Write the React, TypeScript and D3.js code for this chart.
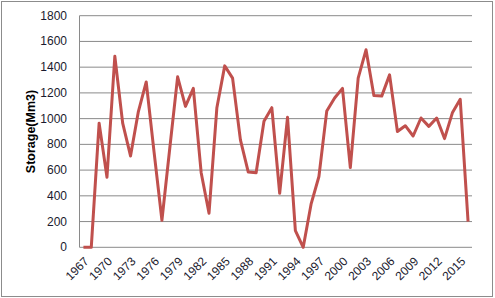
import React, { useEffect, useRef } from 'react';
import * as d3 from 'd3';

// annual storage, 1967 - 2016
const years: number[] = d3.range(1967, 2017);
const storage: number[] = [
	0, 0, 965, 545, 1485, 965, 710, 1055, 1285, 740,
	210, 770, 1325, 1095, 1235, 580, 265, 1085, 1410, 1315,
	835, 585, 580, 980, 1085, 420, 1010, 130, 0, 335,
	550, 1060, 1160, 1235, 620, 1315, 1535, 1180, 1175, 1340,
	900, 945, 865, 1005, 940, 1005, 845, 1045, 1150, 200,
];
const yTicks: number[] = [0, 200, 400, 600, 800, 1000, 1200, 1400, 1600, 1800];
const labelYears: number[] = d3.range(1967, 2016, 3);

const W = 495;
const H = 298;

const App = () => {
	const ref = useRef<SVGSVGElement>(null);

	useEffect(() => {
		const svg = d3.select(ref.current);
		svg.selectAll('*').remove();

		const left = 79.5;
		const right = 472;
		const top = 15.7;
		const bottom = 247.3;

		svg.append('rect')
			.attr('x', 1.5).attr('y', 1.5)
			.attr('width', 491).attr('height', 295)
			.attr('fill', '#fff')
			.attr('stroke', '#8c8c8c')
			.attr('stroke-width', 1);

		const x = d3.scaleBand<number>()
			.domain(years)
			.range([left, right]);
		const y = d3.scaleLinear().domain([0, 1800]).range([bottom, top]);
		const cx = (d: number) => (x(d) as number) + x.bandwidth() / 2;

		// gridlines
		svg.append('g')
			.selectAll('line')
			.data(yTicks)
			.enter()
			.append('line')
			.attr('x1', left).attr('x2', right)
			.attr('y1', (d) => y(d)).attr('y2', (d) => y(d))
			.attr('stroke', '#8a8a8a')
			.attr('stroke-width', 1);

		svg.append('line')
			.attr('x1', left).attr('x2', left)
			.attr('y1', top).attr('y2', bottom)
			.attr('stroke', '#8a8a8a');

		svg.append('g')
			.selectAll('text')
			.data(yTicks)
			.enter()
			.append('text')
			.attr('x', 67)
			.attr('y', (d) => y(d) + 4)
			.attr('text-anchor', 'end')
			.attr('font-family', 'Liberation Sans, Arial, sans-serif')
			.attr('font-size', 12)
			.attr('fill', '#1a1a2e')
			.text((d) => String(d));

		svg.append('g')
			.selectAll('text')
			.data(labelYears)
			.enter()
			.append('text')
			.attr('transform', (d) => `translate(${cx(d) + 6},${262}) rotate(-45)`)
			.attr('text-anchor', 'end')
			.attr('font-family', 'Liberation Sans, Arial, sans-serif')
			.attr('font-size', 12)
			.attr('fill', '#1a1a2e')
			.text((d) => String(d));

		svg.append('text')
			.attr('transform', `translate(35,${(top + bottom) / 2}) rotate(-90)`)
			.attr('text-anchor', 'middle')
			.attr('font-family', 'Liberation Sans, Arial, sans-serif')
			.attr('font-size', 12.5)
			.attr('font-weight', 'bold')
			.attr('fill', '#000')
			.text('Storage(Mm3)');

		const line = d3.line<number>()
			.x((_, i) => cx(years[i]))
			.y((d) => y(d));

		svg.append('path')
			.datum(storage)
			.attr('d', line)
			.attr('fill', 'none')
			.attr('stroke', '#c0504d')
			.attr('stroke-width', 3)
			.attr('stroke-linejoin', 'round');
	}, []);

	return (
		<svg
			ref={ref}
			width={W}
			height={H}
			style={{ position: 'absolute', left: 0, top: 0 }}
		></svg>
	);
};

export default App;
